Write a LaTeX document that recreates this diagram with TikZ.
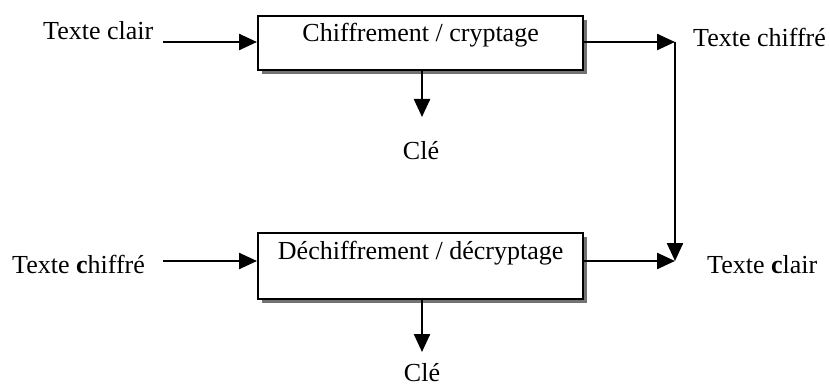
\documentclass[tikz,border=0pt]{standalone}
\usepackage{fontspec}
\setmainfont{Liberation Serif}
\usetikzlibrary{arrows.meta,shadows}
\begin{document}
\begin{tikzpicture}[x=1pt,y=-1pt,
  every node/.style={font=\fontsize{26}{31}\selectfont, inner sep=0pt},
  procbox/.style={draw, line width=2.3pt, fill=white, minimum width=325pt,
    anchor=north west,
    drop shadow={shadow xshift=4pt, shadow yshift=-4pt, fill=black!55, opacity=1}},
  flow/.style={line width=2.4pt, -{Triangle[length=18pt,width=16pt]}},
  plain/.style={anchor=base west}]
\useasboundingbox (0,0) rectangle (830,385);

% processing blocks
\node[procbox, text height=25pt, text depth=29pt] (enc) at (257,15) {Chiffrement / cryptage};
\node[procbox, text height=26pt, text depth=40pt] (dec) at (257,232) {Déchiffrement / décryptage};

% labels
\node[plain] (inA) at (43,40) {Texte clair};
\node[plain] (outA) at (693,47) {Texte chiffré};
\node[plain] (inB) at (12,273) {Texte \textbf{c}hiffré};
\node[plain] (outB) at (707,273) {Texte \textbf{c}lair};
\node[anchor=base] (keyA) at (421,160) {Clé};
\node[anchor=base] (keyB) at (422,381) {Clé};

% connector end points
\coordinate (a1) at (163,42);
\coordinate (b1) at (163,261);
\coordinate (j1) at (675,42);
\coordinate (j2) at (675,261);
\coordinate (k1) at (422,117);
\coordinate (k2) at (422,352);

% connectors
\draw[flow] (a1) -- (a1 -| enc.west);
\draw[flow] (j1 -| enc.east) -- (j1);
\draw[flow] (j1) -- (j2);
\draw[flow] (k1 |- enc.south) -- (k1);
\draw[flow] (b1) -- (b1 -| dec.west);
\draw[flow] (j2 -| dec.east) -- (j2);
\draw[flow] (k2 |- dec.south) -- (k2);
\end{tikzpicture}
\end{document}
